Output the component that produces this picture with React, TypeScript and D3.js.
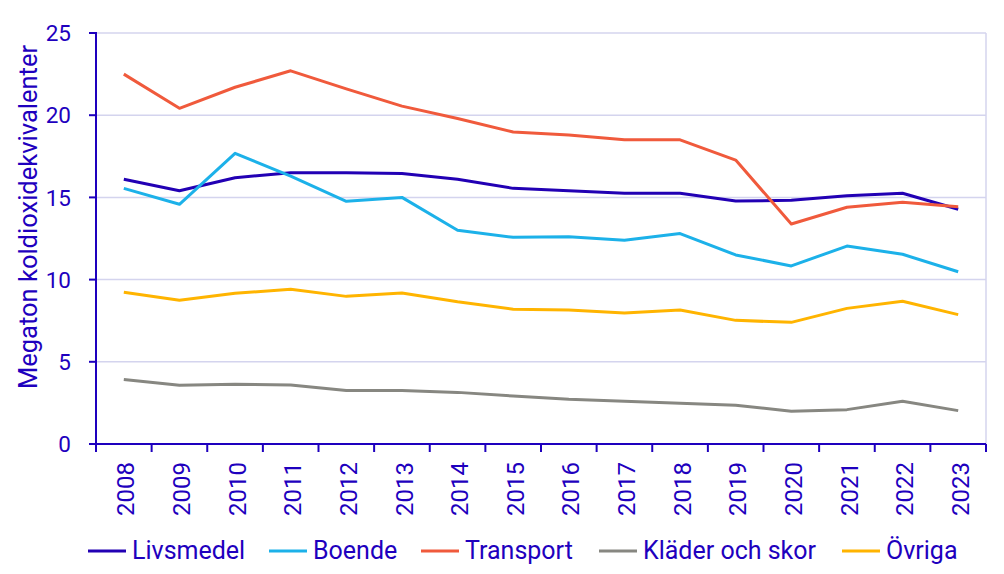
import React from "react";
import * as d3 from "d3";

const years = ["2008", "2009", "2010", "2011", "2012", "2013", "2014", "2015", "2016", "2017", "2018", "2019", "2020", "2021", "2022", "2023"];

const livsmedel = [16.1, 15.4, 16.2, 16.5, 16.5, 16.45, 16.1, 15.55, 15.4, 15.25, 15.25, 14.78, 14.82, 15.1, 15.25, 14.28];
const boende = [15.55, 14.58, 17.68, 16.3, 14.76, 15.0, 13.0, 12.57, 12.6, 12.39, 12.8, 11.5, 10.83, 12.04, 11.54, 10.48];
const transport = [22.5, 20.42, 21.7, 22.7, 21.6, 20.55, 19.8, 18.98, 18.8, 18.5, 18.5, 17.27, 13.38, 14.4, 14.7, 14.43];
const kladerOchSkor = [3.93, 3.57, 3.63, 3.59, 3.26, 3.26, 3.14, 2.92, 2.72, 2.6, 2.48, 2.36, 1.99, 2.09, 2.6, 2.03];
const ovriga = [9.23, 8.74, 9.17, 9.41, 8.98, 9.18, 8.65, 8.2, 8.15, 7.97, 8.15, 7.52, 7.4, 8.25, 8.68, 7.87];

const yTicks = [0, 5, 10, 15, 20, 25];

const series = [
  { name: "Livsmedel", values: livsmedel, color: "#2200b4" },
  { name: "Boende", values: boende, color: "#1cb1e9" },
  { name: "Transport", values: transport, color: "#f05a3c" },
  { name: "Kläder och skor", values: kladerOchSkor, color: "#878781" },
  { name: "Övriga", values: ovriga, color: "#ffb400" },
];

// legend layout (line start x for each entry)
const legendX = [88, 269, 421, 599, 842];

const axisColor = "#1e00be";
const gridColor = "#d4d4ee";
const font = "Roboto, 'Noto Sans', sans-serif";

export default function App() {
  const left = 96;
  const right = 986;
  const top = 33;
  const bottom = 444;

  const x = d3.scaleBand<string>().domain(years).range([left, right]);
  const y = d3.scaleLinear().domain([0, 25]).range([bottom, top]);

  const line = d3
    .line<number>()
    .x((_, i) => (x(years[i]) as number) + x.bandwidth() / 2)
    .y((d) => y(d));

  const bandEdges = years.map((yr) => x(yr) as number).concat([right]);

  return (
    <svg
      width={1004}
      height={574}
      style={{ position: "absolute", left: 0, top: 0, background: "#fff" }}
      fontFamily={font}
    >
      {/* grid */}
      {yTicks.filter((t) => t > 0).map((t) => (
        <line key={t} x1={left} x2={right} y1={y(t)} y2={y(t)} stroke={gridColor} strokeWidth={1.5} />
      ))}
      <line x1={right} x2={right} y1={top} y2={bottom} stroke={gridColor} strokeWidth={1.5} />

      {/* lines */}
      {series.map((s) => (
        <path key={s.name} d={line(s.values) || ""} fill="none" stroke={s.color} strokeWidth={3} strokeLinejoin="round" />
      ))}

      {/* y axis */}
      <line x1={left} x2={left} y1={top - 1} y2={bottom} stroke={axisColor} strokeWidth={2} />
      {yTicks.map((t) => (
        <g key={t}>
          <line x1={left - 7} x2={left} y1={y(t)} y2={y(t)} stroke={axisColor} strokeWidth={2} />
          <text x={left - 25} y={y(t)} dy="0.36em" textAnchor="end" fontSize={22.5} fill={axisColor}>
            {t}
          </text>
        </g>
      ))}
      <text
        transform={`translate(37, 217) rotate(-90)`}
        textAnchor="middle"
        fontSize={25.5}
        fill={axisColor}
      >
        Megaton koldioxidekvivalenter
      </text>

      {/* x axis */}
      <line x1={left - 7} x2={right} y1={bottom} y2={bottom} stroke={axisColor} strokeWidth={2} />
      {bandEdges.map((bx, i) => (
        <line key={i} x1={bx} x2={bx} y1={bottom} y2={bottom + 8} stroke={axisColor} strokeWidth={2} />
      ))}
      {years.map((yr) => {
        const cx = (x(yr) as number) + x.bandwidth() / 2 + 2;
        return (
          <text
            key={yr}
            transform={`translate(${cx}, 462) rotate(-90)`}
            textAnchor="end"
            dy="0.36em"
            fontSize={24}
            fill={axisColor}
          >
            {yr}
          </text>
        );
      })}

      {/* legend */}
      {series.map((s, i) => (
        <g key={s.name}>
          <line x1={legendX[i]} x2={legendX[i] + 38} y1={551} y2={551} stroke={s.color} strokeWidth={3} />
          <text x={legendX[i] + 44} y={559} fontSize={25} fill={axisColor}>
            {s.name}
          </text>
        </g>
      ))}
    </svg>
  );
}
